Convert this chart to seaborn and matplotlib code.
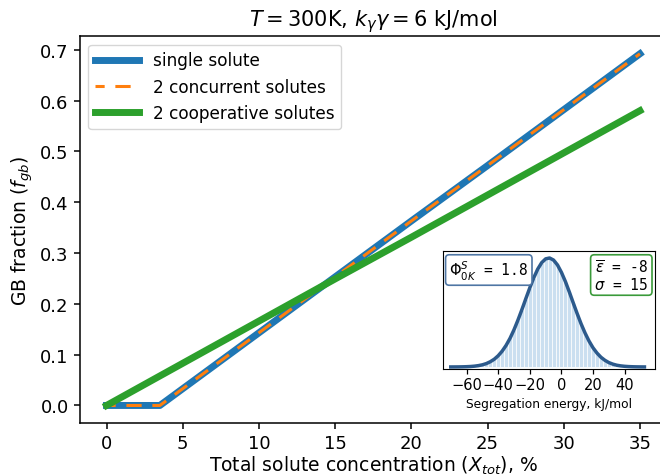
import numpy as np
import pandas as pd
import matplotlib
matplotlib.use("Agg")
import matplotlib.pyplot as plt
import seaborn as sns

# ---- data ----
conc_single = [0, 3.5, 10, 15, 20, 25, 30, 35]
frac_single = [0.0, 0.0, 0.143, 0.253, 0.363, 0.472, 0.582, 0.692]
conc_concurrent = [0, 3.5, 10, 15, 20, 25, 30, 35]
frac_concurrent = [0.0, 0.0, 0.143, 0.253, 0.363, 0.472, 0.582, 0.692]
conc_coop = [0, 5, 10, 15, 20, 25, 30, 35]
frac_coop = [0.0, 0.083, 0.166, 0.249, 0.331, 0.414, 0.497, 0.580]

seg_energy = [-70, -67.5, -65, -62.5, -60, -57.5, -55, -52.5, -50, -47.5, -45, -42.5,
              -40, -37.5, -35, -32.5, -30, -27.5, -25, -22.5, -20, -17.5, -15, -12.5,
              -10, -7.5, -5, -2.5, 0, 2.5, 5, 7.5, 10, 12.5, 15, 17.5, 20, 22.5, 25,
              27.5, 30, 32.5, 35, 37.5, 40, 42.5, 45, 47.5, 50, 52.5]
seg_density = [0.0002, 0.0004, 0.0007, 0.0014, 0.0025, 0.0043, 0.0074, 0.0123, 0.0198,
               0.031, 0.048, 0.071, 0.103, 0.145, 0.198, 0.263, 0.341, 0.430, 0.526,
               0.627, 0.726, 0.818, 0.897, 0.956, 0.991, 0.999, 0.980, 0.935, 0.867,
               0.783, 0.687, 0.586, 0.487, 0.393, 0.309, 0.236, 0.175, 0.127, 0.089,
               0.061, 0.040, 0.026, 0.016, 0.010, 0.006, 0.0035, 0.002, 0.0011, 0.0006,
               0.0003]

main_xticks = [0, 5, 10, 15, 20, 25, 30, 35]
main_yticks = [0.0, 0.1, 0.2, 0.3, 0.4, 0.5, 0.6, 0.7]
inset_xticks = [-60, -40, -20, 0, 20, 40]

plt.rcParams["font.family"] = ["DejaVu Sans"]
plt.rcParams["mathtext.fontset"] = "dejavusans"

fig = plt.figure(figsize=(6.6, 4.77), dpi=100)
ax = fig.add_axes([0.121, 0.111, 0.889, 0.811])

sns.lineplot(x=conc_single, y=frac_single, ax=ax, color="#1f77b4", lw=5,
             label="single solute")
sns.lineplot(x=conc_concurrent, y=frac_concurrent, ax=ax, color="#ff7f0e", lw=2.2,
             label="2 concurrent solutes", linestyle=(2, (5, 3.5)))
sns.lineplot(x=conc_coop, y=frac_coop, ax=ax, color="#2ca02c", lw=5,
             label="2 cooperative solutes")

ax.set_xlim(-1.75, 36.75)
ax.set_ylim(-0.0346, 0.7266)
ax.set_xticks(main_xticks)
ax.set_yticks(main_yticks)
ax.set_xticklabels([str(t) for t in main_xticks], fontsize=13)
ax.set_yticklabels([f"{t:.1f}" for t in main_yticks], fontsize=13)
ax.tick_params(direction="out", length=4.5, width=1.1, pad=3.5)
for s in ax.spines.values():
    s.set_linewidth(1.1)
ax.set_xlabel(r"Total solute concentration ($X_{tot}$), %", fontsize=13.5, labelpad=1)
ax.set_ylabel(r"GB fraction ($f_{gb}$)", fontsize=13.5)
ax.set_title(r"$T = 300$K, $k_{\gamma}\gamma = 6$ kJ/mol", fontsize=15, pad=8)

leg = ax.legend(loc="upper left", fontsize=12.2, handlelength=2.6, frameon=True,
                borderaxespad=0.5)

# ---- inset ----
ax_in = fig.add_axes([0.671, 0.224, 0.321, 0.247])
sns.histplot(x=seg_energy, weights=seg_density, binwidth=2.5, binrange=(-71.25, 53.75),
             ax=ax_in, color="#a9cbe6", alpha=0.6, edgecolor="white", linewidth=0.5)
sns.lineplot(x=seg_energy, y=seg_density, ax=ax_in, color="#2c5a8c", lw=2.5)
ax_in.set_xlim(-75, 59)
ax_in.set_ylim(-0.02, 1.06)
ax_in.set_yticks([])
ax_in.set_ylabel("")
ax_in.set_xticks(inset_xticks)
ax_in.set_xticklabels([f"\u2212{-t}" if t < 0 else str(t) for t in inset_xticks], fontsize=10.5)
ax_in.tick_params(direction="out", length=3.5, width=0.9, pad=2.5)
ax_in.set_xlabel("Segregation energy, kJ/mol", fontsize=8.8, labelpad=3)

mono = ["DejaVu Sans Mono"]
ax_in.text(0.03, 0.94, r"$\Phi^{S}_{0K}$ = 1.8", transform=ax_in.transAxes,
           ha="left", va="top", fontsize=10.5, family=mono,
           bbox=dict(boxstyle="round,pad=0.25", fc="white", ec="#4f76a4", lw=1.2))
ax_in.text(0.97, 0.94, "$\\overline{\\varepsilon}$ = -8\n$\\sigma$ = 15",
           transform=ax_in.transAxes, ha="right", va="top", fontsize=10.5,
           family=mono, linespacing=1.0,
           bbox=dict(boxstyle="round,pad=0.25", fc="white", ec="#3a9a3a", lw=1.2))

fig.savefig("out.png", dpi=100)
